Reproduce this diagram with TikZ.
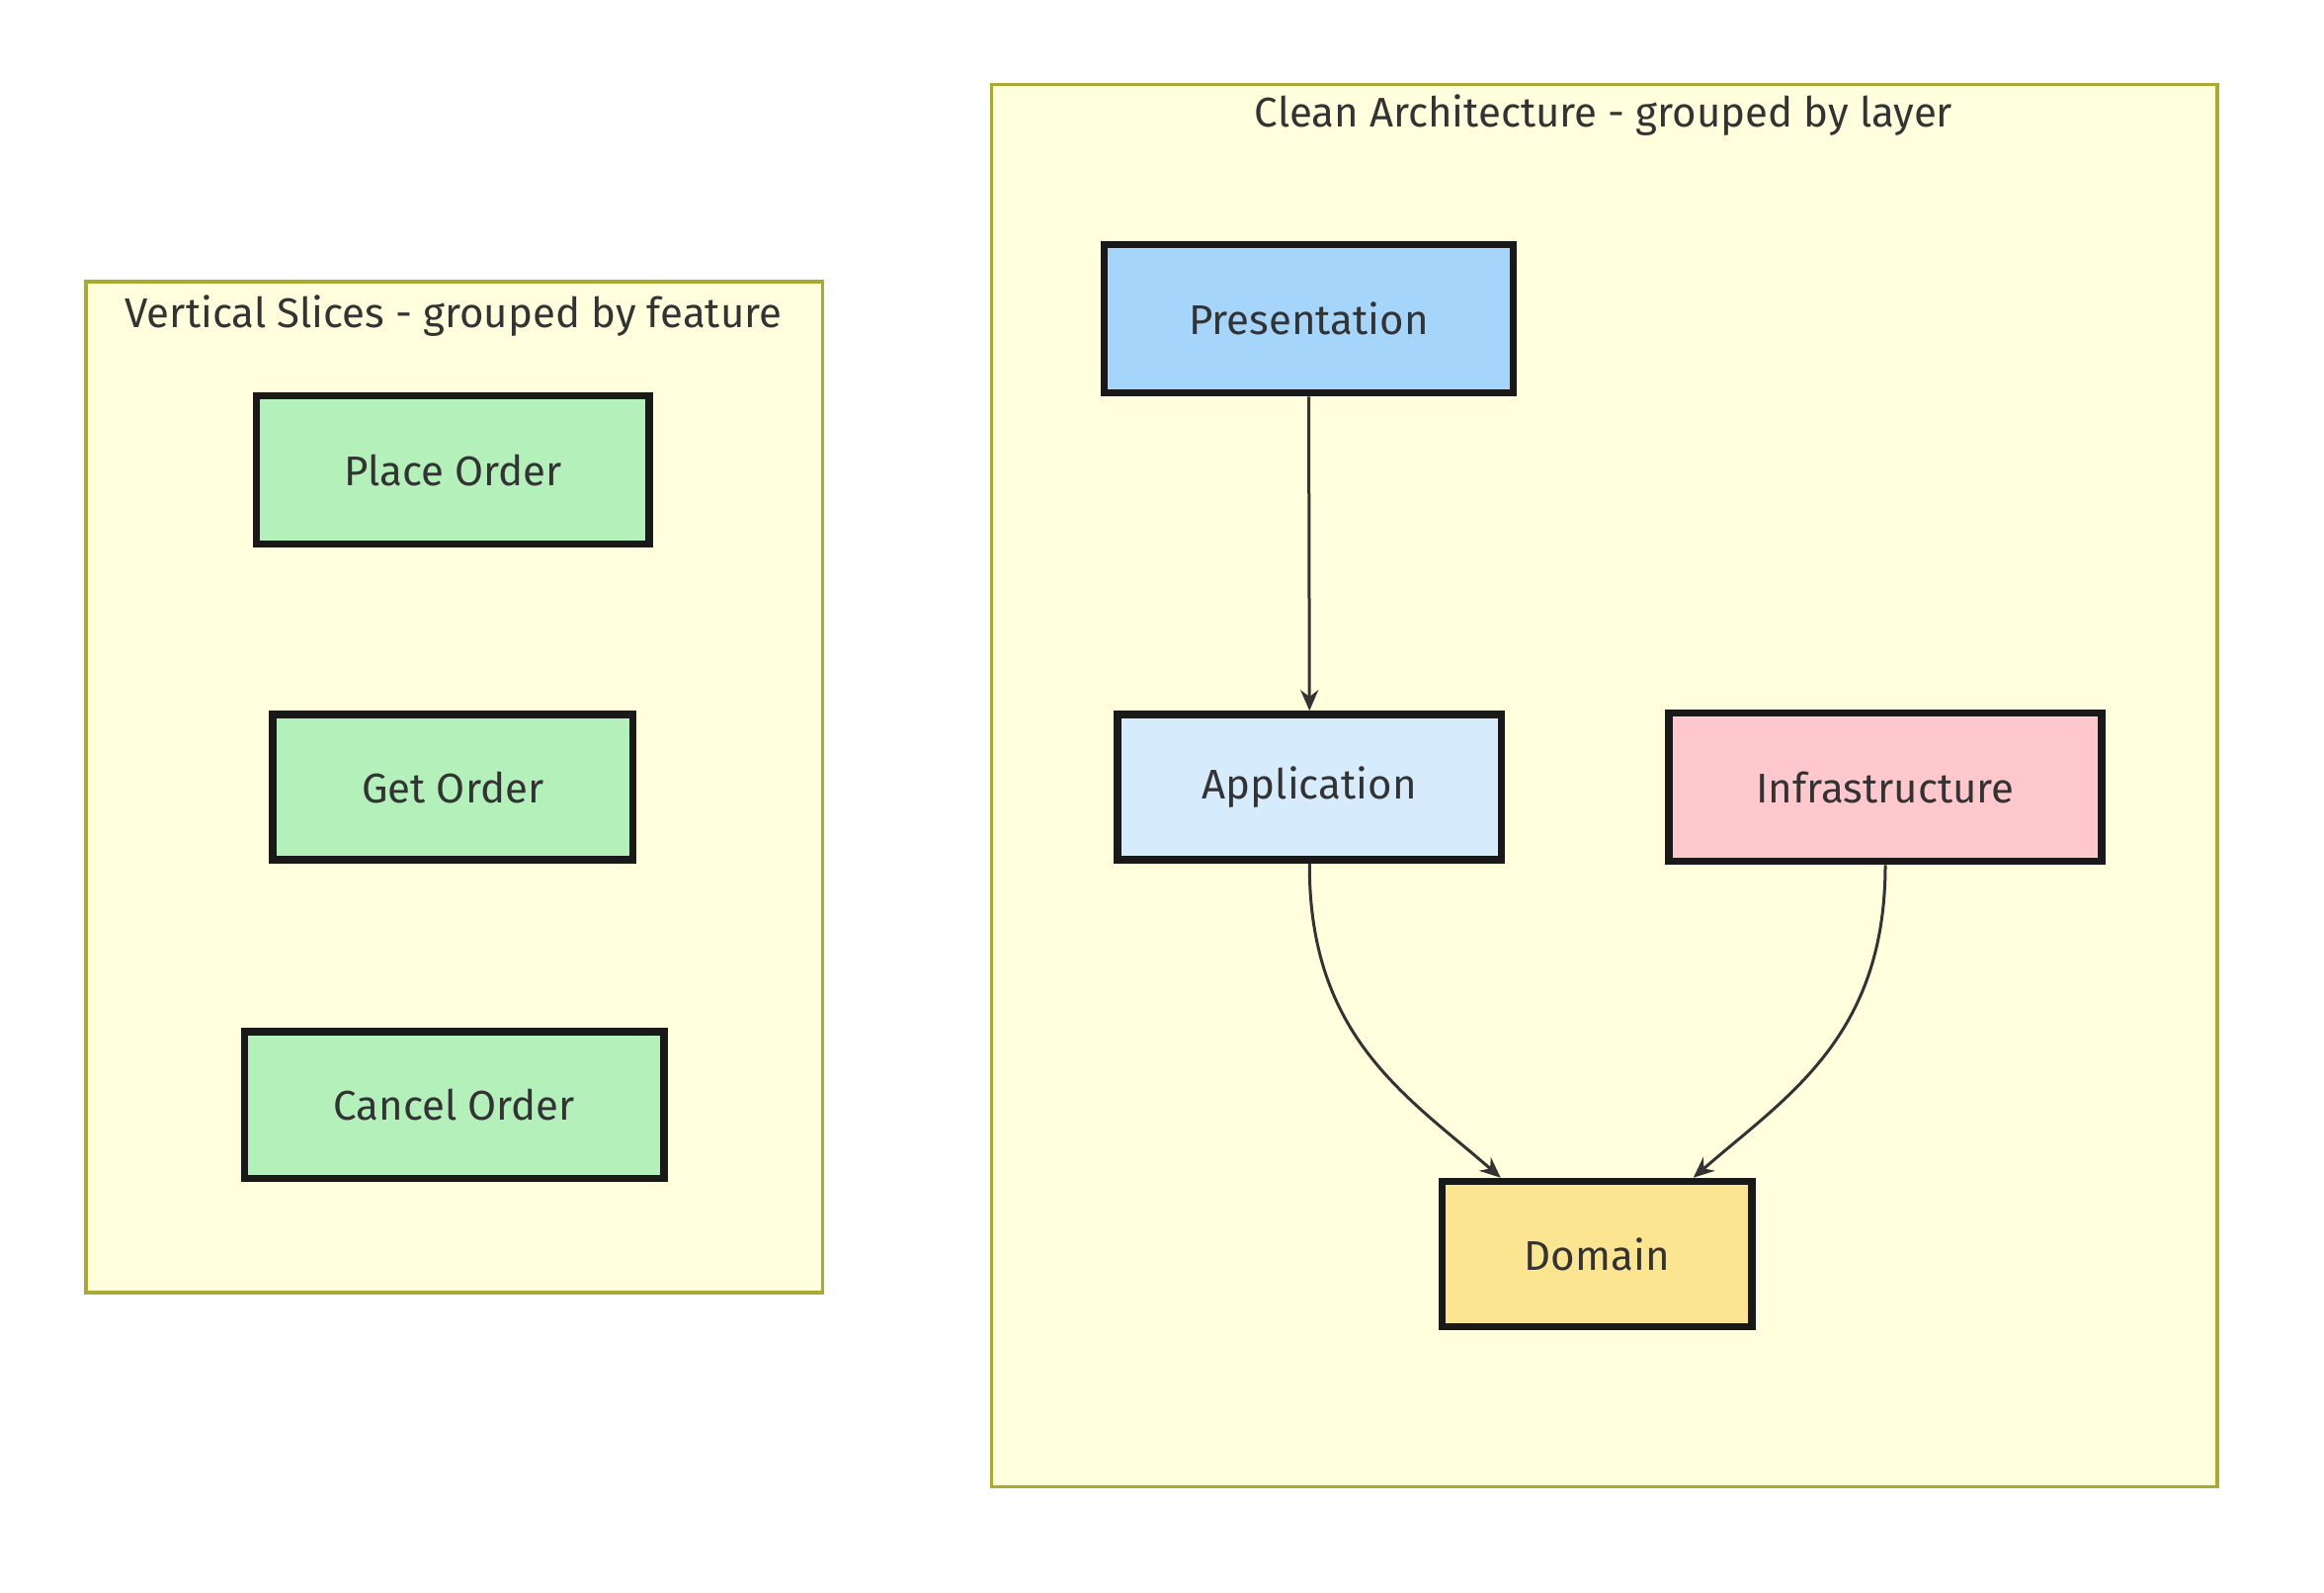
\documentclass[tikz,border=0pt]{standalone}
\usepackage{fontspec}
\setmainfont{Fira Sans}
\usetikzlibrary{arrows.meta}
\definecolor{clfill}{HTML}{FFFFDE}
\definecolor{clline}{HTML}{AAAA33}
\definecolor{green}{HTML}{B3F0BA}
\definecolor{pres}{HTML}{A6D5FC}
\definecolor{app}{HTML}{D6ECFD}
\definecolor{infra}{HTML}{FFC8CC}
\definecolor{dom}{HTML}{FCE591}
\definecolor{txt}{HTML}{333333}
\begin{document}
\begin{tikzpicture}[x=1pt,y=-1pt,
  cluster/.style={draw=clline,fill=clfill,line width=2.5pt},
  box/.style={draw=black!90,line width=5pt,text=txt,font=\fontsize{28}{32}\selectfont},
  ctitle/.style={text=txt,font=\fontsize{28}{32}\selectfont},
  arr/.style={draw=txt,line width=2pt,-{Stealth[length=14pt,width=12pt]}}]
\useasboundingbox (0,0) rectangle (1568,1074);
\draw[cluster] (58,190) rectangle (555,872);
\node[ctitle] (t1) at (306,213) {Vertical Slices - grouped by feature};
\draw[cluster] (669,57) rectangle (1496,1003);
\node[ctitle] (t2) at (1082,78) {Clean Architecture - grouped by layer};
\node[box,fill=green,minimum width=265pt,minimum height=100pt] (po) at (305.5,317) {Place Order};
\node[box,fill=green,minimum width=243pt,minimum height=98pt] (go) at (305.5,531) {Get Order};
\node[box,fill=green,minimum width=283pt,minimum height=99pt] (co) at (306.5,745.5) {Cancel Order};
\node[box,fill=pres,minimum width=276pt,minimum height=100pt] (pr) at (883,215) {Presentation};
\node[box,fill=app,minimum width=259pt,minimum height=98pt] (ap) at (883.5,531) {Application};
\node[box,fill=infra,minimum width=292pt,minimum height=100pt] (in) at (1272,531) {Infrastructure};
\node[box,fill=dom,minimum width=209pt,minimum height=98pt] (do) at (1077.5,846) {Domain};
\draw[arr] (pr.south) -- (ap.north);
\draw[arr] (ap.south) .. controls (883,700) and (950,740) .. ([xshift=-65pt]do.north);
\draw[arr] (in.south) .. controls (1272,700) and (1205,740) .. ([xshift=65pt]do.north);
\end{tikzpicture}
\end{document}
